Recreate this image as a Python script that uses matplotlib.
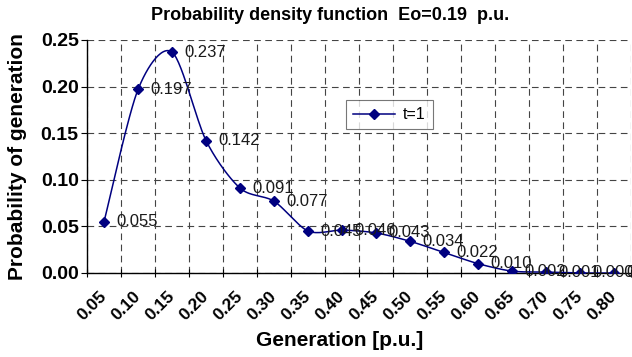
import numpy as np
import matplotlib
matplotlib.use('Agg')
import matplotlib.pyplot as plt

plt.rcParams['font.family'] = ['Liberation Sans', 'DejaVu Sans']

# data
categories = ['0.05', '0.10', '0.15', '0.20', '0.25', '0.30', '0.35', '0.40',
              '0.45', '0.50', '0.55', '0.60', '0.65', '0.70', '0.75', '0.80']
prob = [0.055, 0.197, 0.237, 0.142, 0.091, 0.077, 0.045, 0.046,
        0.043, 0.034, 0.022, 0.010, 0.002, 0.001, 0.000, 0.000]
series_name = 't=1'
yticks = [0.00, 0.05, 0.10, 0.15, 0.20, 0.25]

navy = '#000080'


def smooth(x, y, n=30, k=7.0):
    # bezier smoothing like a spreadsheet "smoothed line"
    x = np.asarray(x, float)
    y = np.asarray(y, float)
    px = np.concatenate([[x[0]], x, [x[-1]]])
    py = np.concatenate([[y[0]], y, [y[-1]]])
    t = np.linspace(0, 1, n)[:, None]
    xs, ys = [], []
    for i in range(1, len(px) - 2):
        p0 = np.array([px[i], py[i]])
        p3 = np.array([px[i + 1], py[i + 1]])
        c1 = p0 + (p3 - np.array([px[i - 1], py[i - 1]])) / k
        c2 = p3 - (np.array([px[i + 2], py[i + 2]]) - p0) / k
        pts = ((1 - t) ** 3) * p0 + 3 * ((1 - t) ** 2) * t * c1 + 3 * (1 - t) * t ** 2 * c2 + t ** 3 * p3
        xs.append(pts[:, 0])
        ys.append(pts[:, 1])
    return np.concatenate(xs), np.concatenate(ys)


fig = plt.figure(figsize=(6.32, 3.57), dpi=100)
ax = fig.add_axes([0.1377, 0.2353, 0.861, 0.6527])

xpos = np.arange(len(categories))
sx, sy = smooth(xpos, prob)
ax.plot(sx, sy, color=navy, lw=1.1, zorder=3)
ax.plot(xpos, prob, ls='none', marker='D', ms=5.5, color=navy, zorder=4)
ax.plot([], [], color=navy, lw=1.1, marker='D', ms=5.5, label=series_name)

for x, v in zip(xpos, prob):
    ax.annotate(f'{v:.3f}', (x, v), xytext=(9, 0), textcoords='offset points',
                ha='left', va='center', fontsize=12, color='#1a1a1a',
                annotation_clip=False, zorder=5)

ax.set_xlim(-0.5, len(categories) - 0.5)
ax.set_ylim(0, 0.25)

ax.set_xticks(xpos)
ax.set_xticklabels(categories, rotation=45, ha='right', va='center',
                   rotation_mode='anchor', fontsize=12.5, fontweight='bold')
ax.set_xticks(np.arange(len(categories) + 1) - 0.5, minor=True)
ax.tick_params(axis='x', which='major', length=0, pad=15)
ax.tick_params(axis='x', which='minor', length=6, direction='inout', width=0.8)

ax.set_yticks(yticks)
ax.set_yticklabels([f'{v:.2f}' for v in yticks], fontsize=14, fontweight='bold')
ax.tick_params(axis='y', length=4, width=0.8, direction='out', pad=2)

ax.grid(True, which='minor', axis='x', color='#444444', ls=(0, (6, 4)), lw=0.8)
ax.grid(True, which='major', axis='y', color='#444444', ls=(0, (6, 4)), lw=0.8)

for s in ['top', 'right']:
    ax.spines[s].set_visible(False)
ax.spines['left'].set_linewidth(1.0)
ax.spines['bottom'].set_linewidth(1.0)

fig.text(330 / 632, 1 - 15 / 357, 'Probability density function  Eo=0.19  p.u.',
         fontsize=13, fontweight='bold', ha='center', va='center')
fig.text(340 / 632, 1 - 340 / 357, 'Generation [p.u.]', fontsize=15,
         fontweight='bold', ha='center', va='center')
fig.text(18 / 632, 0.5 * (2 - (40 + 273) / 357), 'Probability of generation',
         fontsize=15, fontweight='bold', ha='center', va='center', rotation=90)

leg = ax.legend(loc='upper left', bbox_to_anchor=((346 - 87) / 544, (273 - 100) / 233),
                fontsize=11.5, frameon=True, fancybox=False, edgecolor='#555555',
                handlelength=2.6, borderpad=0.45, handletextpad=0.5,
                borderaxespad=0)
leg.get_frame().set_linewidth(0.8)

fig.savefig('out.png', dpi=100)
